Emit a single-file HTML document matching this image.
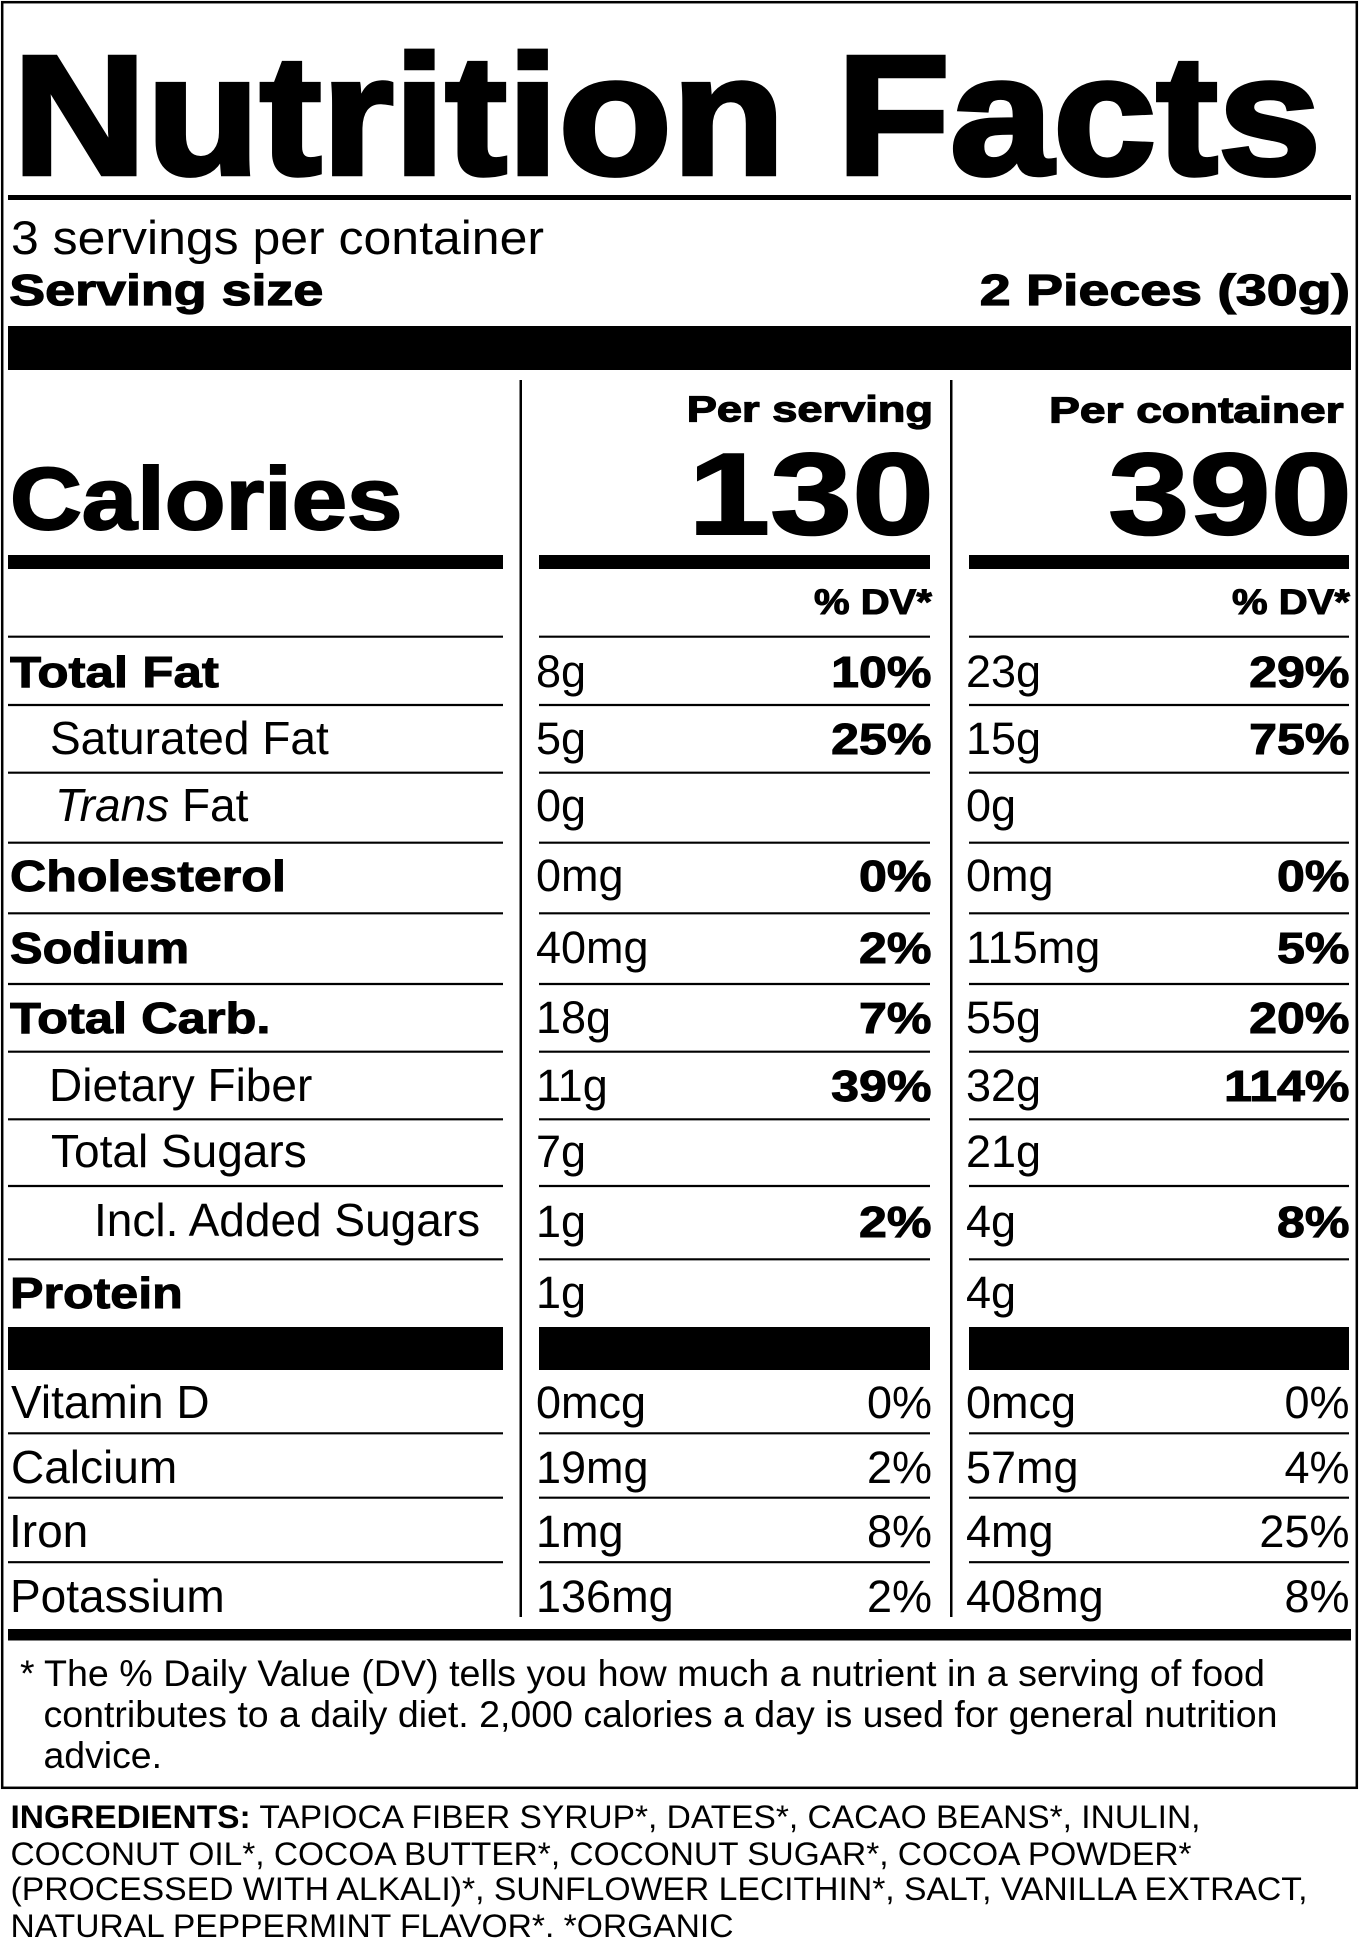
<!DOCTYPE html>
<html>
<head>
<meta charset="utf-8">
<style>
html,body{margin:0;padding:0;background:#fff}
svg{display:block}
text{font-family:"Liberation Sans",Arial,sans-serif;fill:#000}
.h{font-weight:700;stroke:#000;stroke-linejoin:miter}
.b{font-weight:700}
</style>
</head>
<body>
<svg xmlns="http://www.w3.org/2000/svg" width="1360" height="1954" viewBox="0 0 1360 1954">
<rect width="1360" height="1954" fill="#fff"/>
<!-- outer box -->
<rect x="2.2" y="2.2" width="1354.6" height="1785.6" fill="none" stroke="#000" stroke-width="2.5"/>

<!-- Title -->
<g transform="translate(12.6,174) scale(1.091,1)"><text class="h" font-size="170" stroke-width="4.5">Nutrition Facts</text></g>
<rect x="8" y="195" width="1343" height="5" fill="#000"/>

<!-- servings -->
<text x="11" y="254" font-size="47" textLength="533" lengthAdjust="spacingAndGlyphs">3 servings per container</text>
<g transform="translate(9.3,305) scale(1.223,1)"><text class="h" font-size="44" stroke-width="1.2">Serving size</text></g>
<g transform="translate(1350,305) scale(1.262,1)"><text class="h" font-size="44" stroke-width="1.2" text-anchor="end">2 Pieces (30g)</text></g>
<rect x="8" y="326" width="1343" height="44" fill="#000"/>

<!-- vertical dividers -->
<rect x="519.5" y="380" width="2.5" height="1237" fill="#000"/>
<rect x="950" y="380" width="2.5" height="1237" fill="#000"/>

<!-- column headers -->
<g transform="translate(933,421.5) scale(1.256,1)"><text class="h" font-size="36" stroke-width="1.2" text-anchor="end">Per serving</text></g>
<g transform="translate(1343.5,422.5) scale(1.28,1)"><text class="h" font-size="36" stroke-width="1.2" text-anchor="end">Per container</text></g>

<!-- Calories -->
<g transform="translate(10,529) scale(1.13,1)"><text class="h" font-size="88" stroke-width="2">Calories</text></g>
<g transform="translate(934,534) scale(1.27,1)"><text class="h" font-size="116" stroke-width="2" text-anchor="end">130</text></g>
<g transform="translate(1352,534) scale(1.26,1)"><text class="h" font-size="116" stroke-width="2" text-anchor="end">390</text></g>

<!-- medium bars -->
<path d="M8 555h495v14h-495zM539 555h391v14h-391zM969 555h380v14h-380z" fill="#000"/>

<!-- % DV -->
<g transform="translate(932,614) scale(1.145,1)"><text class="h" font-size="35" stroke-width="1" text-anchor="end">% DV*</text></g>
<g transform="translate(1350,614) scale(1.145,1)"><text class="h" font-size="35" stroke-width="1" text-anchor="end">% DV*</text></g>

<!-- thin rules -->
<path fill="#000" d="
M8 635.6h495v2.2h-495zM539 635.6h391v2.2h-391zM969 635.6h380v2.2h-380z
M8 703.9h495v2.2h-495zM539 703.9h391v2.2h-391zM969 703.9h380v2.2h-380z
M8 771.6h495v2.2h-495zM539 771.6h391v2.2h-391zM969 771.6h380v2.2h-380z
M8 841.6h495v2.2h-495zM539 841.6h391v2.2h-391zM969 841.6h380v2.2h-380z
M8 912.2h495v2.2h-495zM539 912.2h391v2.2h-391zM969 912.2h380v2.2h-380z
M8 982.9h495v2.2h-495zM539 982.9h391v2.2h-391zM969 982.9h380v2.2h-380z
M8 1050.6h495v2.2h-495zM539 1050.6h391v2.2h-391zM969 1050.6h380v2.2h-380z
M8 1118.2h495v2.2h-495zM539 1118.2h391v2.2h-391zM969 1118.2h380v2.2h-380z
M8 1184.9h495v2.2h-495zM539 1184.9h391v2.2h-391zM969 1184.9h380v2.2h-380z
M8 1258.2h495v2.2h-495zM539 1258.2h391v2.2h-391zM969 1258.2h380v2.2h-380z
M8 1432.2h495v2.2h-495zM539 1432.2h391v2.2h-391zM969 1432.2h380v2.2h-380z
M8 1496.6h495v2.2h-495zM539 1496.6h391v2.2h-391zM969 1496.6h380v2.2h-380z
M8 1561.1h495v2.2h-495zM539 1561.1h391v2.2h-391zM969 1561.1h380v2.2h-380z
"/>

<!-- thick bar after protein -->
<path d="M8 1327h495v43h-495zM539 1327h391v43h-391zM969 1327h380v43h-380z" fill="#000"/>

<!-- Total Fat -->
<g transform="translate(10,687) scale(1.16,1)"><text class="h" font-size="44" stroke-width="1">Total Fat</text></g>
<text x="536" y="687" font-size="45">8g</text>
<g transform="translate(931.5,687) scale(1.14,1)"><text class="h" font-size="44" stroke-width="1" text-anchor="end">10%</text></g>
<text x="966" y="687" font-size="45">23g</text>
<g transform="translate(1349.5,687) scale(1.14,1)"><text class="h" font-size="44" stroke-width="1" text-anchor="end">29%</text></g>

<!-- Saturated Fat -->
<text x="50" y="754" font-size="46">Saturated Fat</text>
<text x="536" y="754" font-size="45">5g</text>
<g transform="translate(931.5,754) scale(1.14,1)"><text class="h" font-size="44" stroke-width="1" text-anchor="end">25%</text></g>
<text x="966" y="754" font-size="45">15g</text>
<g transform="translate(1349.5,754) scale(1.14,1)"><text class="h" font-size="44" stroke-width="1" text-anchor="end">75%</text></g>

<!-- Trans Fat -->
<text x="55" y="821" font-size="46"><tspan font-style="italic">Trans</tspan> Fat</text>
<text x="536" y="821" font-size="45">0g</text>
<text x="966" y="821" font-size="45">0g</text>

<!-- Cholesterol -->
<g transform="translate(10,891) scale(1.14,1)"><text class="h" font-size="44" stroke-width="1">Cholesterol</text></g>
<text x="536" y="891" font-size="45">0mg</text>
<g transform="translate(931.5,891) scale(1.14,1)"><text class="h" font-size="44" stroke-width="1" text-anchor="end">0%</text></g>
<text x="966" y="891" font-size="45">0mg</text>
<g transform="translate(1349.5,891) scale(1.14,1)"><text class="h" font-size="44" stroke-width="1" text-anchor="end">0%</text></g>

<!-- Sodium -->
<g transform="translate(10,963) scale(1.11,1)"><text class="h" font-size="44" stroke-width="1">Sodium</text></g>
<text x="536" y="963" font-size="45">40mg</text>
<g transform="translate(931.5,963) scale(1.14,1)"><text class="h" font-size="44" stroke-width="1" text-anchor="end">2%</text></g>
<text x="966" y="963" font-size="45">115mg</text>
<g transform="translate(1349.5,963) scale(1.14,1)"><text class="h" font-size="44" stroke-width="1" text-anchor="end">5%</text></g>

<!-- Total Carb -->
<g transform="translate(10,1033) scale(1.15,1)"><text class="h" font-size="44" stroke-width="1">Total Carb.</text></g>
<text x="536" y="1033" font-size="45">18g</text>
<g transform="translate(931.5,1033) scale(1.14,1)"><text class="h" font-size="44" stroke-width="1" text-anchor="end">7%</text></g>
<text x="966" y="1033" font-size="45">55g</text>
<g transform="translate(1349.5,1033) scale(1.14,1)"><text class="h" font-size="44" stroke-width="1" text-anchor="end">20%</text></g>

<!-- Dietary Fiber -->
<text x="49" y="1101" font-size="46">Dietary Fiber</text>
<text x="536" y="1101" font-size="45">11g</text>
<g transform="translate(931.5,1101) scale(1.14,1)"><text class="h" font-size="44" stroke-width="1" text-anchor="end">39%</text></g>
<text x="966" y="1101" font-size="45">32g</text>
<g transform="translate(1349.5,1101) scale(1.14,1)"><text class="h" font-size="44" stroke-width="1" text-anchor="end">114%</text></g>

<!-- Total Sugars -->
<text x="51" y="1167" font-size="46">Total Sugars</text>
<text x="536" y="1167" font-size="45">7g</text>
<text x="966" y="1167" font-size="45">21g</text>

<!-- Added Sugars -->
<text x="94" y="1236" font-size="46">Incl. Added Sugars</text>
<text x="536" y="1237" font-size="45">1g</text>
<g transform="translate(931.5,1237) scale(1.14,1)"><text class="h" font-size="44" stroke-width="1" text-anchor="end">2%</text></g>
<text x="966" y="1237" font-size="45">4g</text>
<g transform="translate(1349.5,1237) scale(1.14,1)"><text class="h" font-size="44" stroke-width="1" text-anchor="end">8%</text></g>

<!-- Protein -->
<g transform="translate(10,1308) scale(1.14,1)"><text class="h" font-size="44" stroke-width="1">Protein</text></g>
<text x="536" y="1308" font-size="45">1g</text>
<text x="966" y="1308" font-size="45">4g</text>

<!-- Vitamins -->
<text x="11" y="1418" font-size="46">Vitamin D</text>
<text x="536" y="1418" font-size="45">0mcg</text>
<text x="932" y="1418" font-size="45" text-anchor="end">0%</text>
<text x="966" y="1418" font-size="45">0mcg</text>
<text x="1349.5" y="1418" font-size="45" text-anchor="end">0%</text>

<text x="11" y="1483" font-size="46">Calcium</text>
<text x="536" y="1483" font-size="45">19mg</text>
<text x="932" y="1483" font-size="45" text-anchor="end">2%</text>
<text x="966" y="1483" font-size="45">57mg</text>
<text x="1349.5" y="1483" font-size="45" text-anchor="end">4%</text>

<text x="9" y="1547" font-size="46">Iron</text>
<text x="536" y="1547" font-size="45">1mg</text>
<text x="932" y="1547" font-size="45" text-anchor="end">8%</text>
<text x="966" y="1547" font-size="45">4mg</text>
<text x="1349.5" y="1547" font-size="45" text-anchor="end">25%</text>

<text x="10" y="1612" font-size="46">Potassium</text>
<text x="536" y="1612" font-size="45">136mg</text>
<text x="932" y="1612" font-size="45" text-anchor="end">2%</text>
<text x="966" y="1612" font-size="45">408mg</text>
<text x="1349.5" y="1612" font-size="45" text-anchor="end">8%</text>

<!-- bottom bar -->
<rect x="8" y="1629" width="1343" height="11.5" fill="#000"/>

<!-- footnote -->
<text x="20" y="1686" font-size="37.4">*</text>
<text x="44" y="1686" font-size="37.4" textLength="1221" lengthAdjust="spacingAndGlyphs">The % Daily Value (DV) tells you how much a nutrient in a serving of food</text>
<text x="43.5" y="1727" font-size="37.4" textLength="1234" lengthAdjust="spacingAndGlyphs">contributes to a daily diet. 2,000 calories a day is used for general nutrition</text>
<text x="43.5" y="1768" font-size="37.4">advice.</text>

<!-- ingredients -->
<text x="10.5" y="1828" font-size="32" textLength="1190" lengthAdjust="spacingAndGlyphs"><tspan class="b">INGREDIENTS:</tspan> TAPIOCA FIBER SYRUP*, DATES*, CACAO BEANS*, INULIN,</text>
<text x="10.5" y="1865" font-size="32" textLength="1181" lengthAdjust="spacingAndGlyphs">COCONUT OIL*, COCOA BUTTER*, COCONUT SUGAR*, COCOA POWDER*</text>
<text x="10.5" y="1900" font-size="32" textLength="1297" lengthAdjust="spacingAndGlyphs">(PROCESSED WITH ALKALI)*, SUNFLOWER LECITHIN*, SALT, VANILLA EXTRACT,</text>
<text x="10.5" y="1937" font-size="32" textLength="723" lengthAdjust="spacingAndGlyphs">NATURAL PEPPERMINT FLAVOR*. *ORGANIC</text>
</svg>
</body>
</html>
